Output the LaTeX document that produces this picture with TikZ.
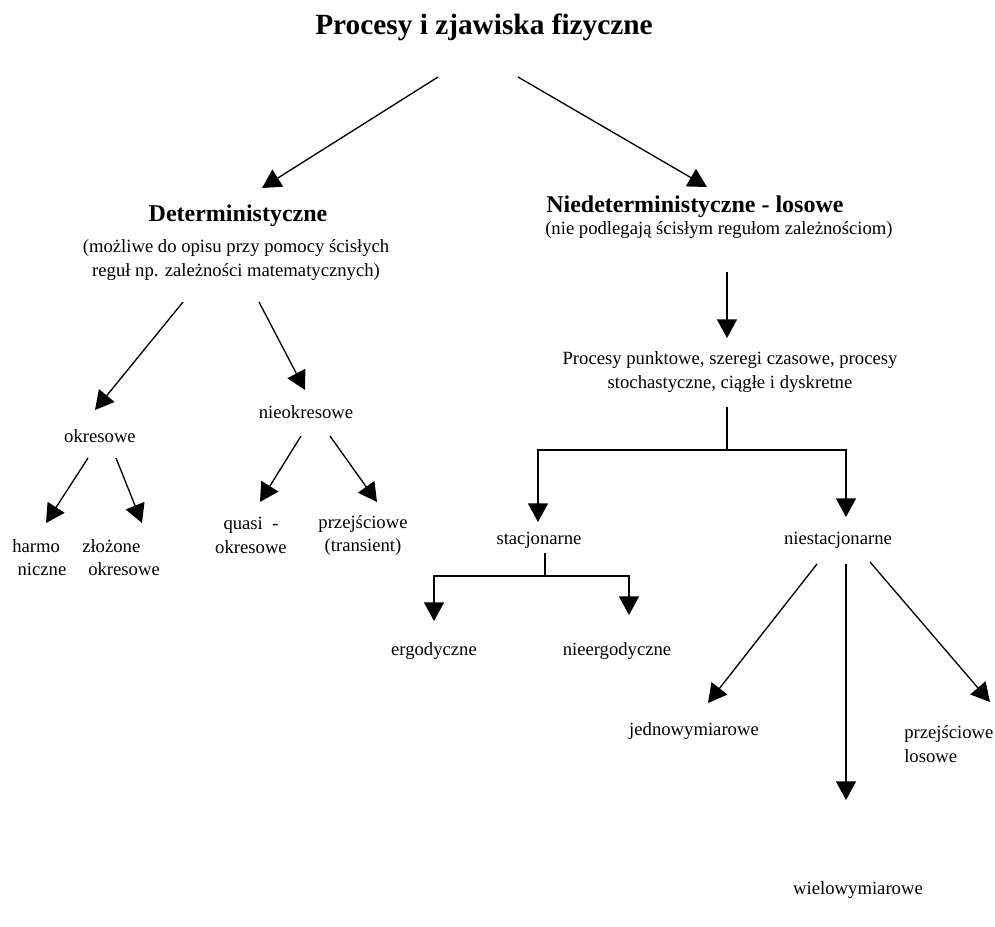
\documentclass[tikz,border=0pt]{standalone}
\usepackage{fontspec}
\setmainfont{Liberation Serif}
\usetikzlibrary{arrows.meta}

\begin{document}
\begin{tikzpicture}[x=0.75pt, y=-0.75pt, inner sep=0pt]
    % Styles
    \tikzstyle{title} = [font=\fontsize{22}{26}\selectfont\bfseries]
    \tikzstyle{head} = [font=\fontsize{18}{21}\selectfont\bfseries]
    \tikzstyle{label} = [font=\fontsize{14}{17.5}\selectfont, align=center]
    \tikzstyle{line} = [draw, -{Triangle[length=14pt, width=15pt]}, line width=1pt, black]

    \useasboundingbox (0,0) rectangle (995,926);

    % Nodes
    \node [title] (main) at (484,27) {Procesy i zjawiska fizyczne};
    \node [head] (det) at (238,216) {Deterministyczne};
    \node [label] (detnote) at (236,260) {(możliwe do opisu przy pomocy ścisłych\\reguł np. zależności matematycznych)};
    \node [head, anchor=west] (niedet) at (546,207) {Niedeterministyczne - losowe};
    \node [label, anchor=west] (niedetnote) at (545,230) {(nie podlegają ścisłym regułom zależnościom)};
    \node [label] (okr) at (100,436) {okresowe};
    \node [label] (nieokr) at (306,412) {nieokresowe};
    \node [label, align=left, anchor=west] (harmo) at (12,557.5) {harmo\\\hspace*{4pt}niczne};
    \node [label, align=left, anchor=west] (zloz) at (82,557.5) {złożone\\\hspace*{4.5pt}okresowe};
    \node [label] (quasi) at (251,535.5) {quasi\ \ -\\okresowe};
    \node [label] (przejtr) at (363,535.5) {przejściowe\\(transient)};
    \node [label] (proc) at (730,372) {Procesy punktowe, szeregi czasowe, procesy\\stochastyczne, ciągłe i dyskretne};
    \node [label] (stac) at (539,540) {stacjonarne};
    \node [label] (niestac) at (838,540) {niestacjonarne};
    \node [label] (ergo) at (434,651) {ergodyczne};
    \node [label] (nieergo) at (617,651) {nieergodyczne};
    \node [label] (jedno) at (694,731) {jednowymiarowe};
    \node [label, align=left, anchor=west] (przejlos) at (904,744) {przejściowe\\losowe};
    \node [label] (wielo) at (858,890) {wielowymiarowe};

    % Paths
    \path [line] ([shift={(-46,50)}]main.center) -- ([shift={(24,-28)}]det.center);
    \path [line] ([shift={(34,50)}]main.center) -- ([shift={(161,-20)}]niedet.west);
    \path [line] ([shift={(-53,42)}]detnote.center) -- ([shift={(-5,-26)}]okr.center);
    \path [line] ([shift={(23,42)}]detnote.center) -- ([shift={(-1,-22)}]nieokr.center);
    \path [line] ([shift={(-12,22)}]okr.center) -- ([shift={(34,-34.5)}]harmo.west);
    \path [line] ([shift={(16,22)}]okr.center) -- ([shift={(60,-34.5)}]zloz.west);
    \path [line] ([shift={(-5,24)}]nieokr.center) -- ([shift={(9,-33.5)}]quasi.center);
    \path [line] ([shift={(24,24)}]nieokr.center) -- ([shift={(14,-33.5)}]przejtr.center);
    \path [line] ([shift={(182,42)}]niedetnote.west) -- ([shift={(-3,-34)}]proc.center);
    \path [line] ([shift={(-3,35)}]proc.center) -- ++(0,43) -| ([shift={(-1,-18)}]stac.center);
    \path [line] ([shift={(-3,78)}]proc.center) -| ([shift={(8,-23)}]niestac.center);
    \path [line] ([shift={(6,13)}]stac.center) -- ++(0,23) -| ([shift={(0,-30)}]ergo.center);
    \path [line] ([shift={(6,36)}]stac.center) -| ([shift={(12,-36)}]nieergo.center);
    \path [line] ([shift={(-21,24)}]niestac.center) -- ([shift={(14,-28)}]jedno.center);
    \path [line] ([shift={(8,24)}]niestac.center) -- ([shift={(-12,-90)}]wielo.center);
    \path [line] ([shift={(32,22)}]niestac.center) -- ([shift={(86,-42)}]przejlos.west);
\end{tikzpicture}
\end{document}
